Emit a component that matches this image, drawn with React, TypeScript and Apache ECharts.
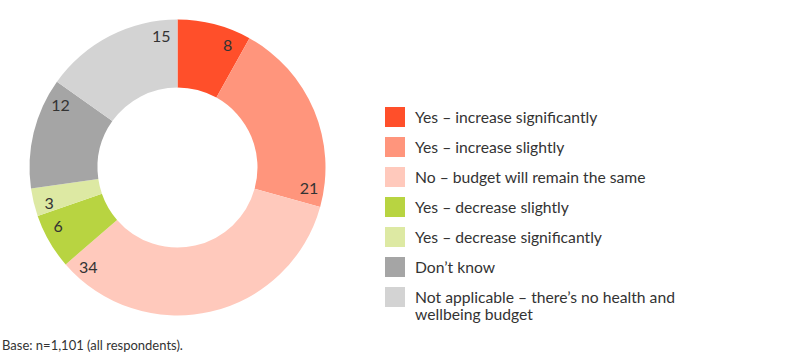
import React, { useEffect, useRef } from "react";
import * as echarts from "echarts";

const categories = [
  "Yes – increase significantly",
  "Yes – increase slightly",
  "No – budget will remain the same",
  "Yes – decrease slightly",
  "Yes – decrease significantly",
  "Don’t know",
  "Not applicable – there’s no health and wellbeing budget",
];
const legendFirstLines = [
  "Yes – increase significantly",
  "Yes – increase slightly",
  "No – budget will remain the same",
  "Yes – decrease slightly",
  "Yes – decrease significantly",
  "Don’t know",
  "Not applicable – there’s no health and",
];
const legendSecondLine = "wellbeing budget";
const values = [8, 21, 34, 6, 3, 12, 15];
const colors = ["#FF4F2A", "#FF957C", "#FFC9BC", "#B8D441", "#DDE9A3", "#A5A5A5", "#D3D3D3"];
const footnote = "Base: n=1,101 (all respondents).";

const FONT = "Lato";
const CX = 177.5;
const CY = 167.5;
const R_IN = 80;
const R_OUT = 148;
const LABEL_R = 133;
const LABEL_BACK_DEG = 7;
const LEG_LEFT = 385;
const LEG_TOP = 107;
const LEG_FONT = 15.7;

export default function App() {
  const ref = useRef<HTMLDivElement>(null);
  useEffect(() => {
    if (!ref.current) return;
    const chart = echarts.init(ref.current, undefined, { renderer: "svg" });
    const total = values.reduce((a, b) => a + b, 0);
    const cum: number[] = [0];
    values.forEach((v, i) => cum.push(cum[i] + v));
    chart.setOption({
      animation: false,
      color: colors,
      legend: {
        orient: "vertical",
        left: LEG_LEFT,
        top: LEG_TOP,
        padding: 0,
        itemWidth: 20,
        itemHeight: 20,
        itemGap: 10,
        icon: "rect",
        selectedMode: false,
        data: categories,
        formatter: (name: string) => legendFirstLines[categories.indexOf(name)],
        textStyle: {
          fontFamily: FONT,
          fontSize: LEG_FONT,
          lineHeight: 16,
          color: "#333",
          padding: [0, 0, 0, 5],
        },
      },
      graphic: [
        {
          type: "text",
          left: LEG_LEFT + 30,
          top: LEG_TOP + 6 * 30 + 10 + 9,
          style: {
            text: legendSecondLine,
            font: `${LEG_FONT}px ${FONT}`,
            lineHeight: 16,
            fill: "#333",
          },
        },
        {
          type: "text",
          left: 2,
          top: 338,
          style: { text: footnote, font: `13px ${FONT}`, fill: "#333" },
        },
      ],
      series: [
        {
          type: "pie",
          center: [CX, CY],
          radius: [R_IN, R_OUT],
          startAngle: 90,
          clockwise: true,
          avoidLabelOverlap: false,
          itemStyle: { borderWidth: 0 },
          emphasis: { disabled: true },
          label: {
            show: true,
            position: "inside",
            formatter: "{c}",
            fontFamily: FONT,
            fontSize: 16,
            color: "#333",
          },
          labelLine: { show: false },
          labelLayout: (p: any) => {
            const i = p.dataIndex;
            const deg = (cum[i + 1] / total) * 360 - LABEL_BACK_DEG;
            const a = (deg * Math.PI) / 180;
            return {
              x: CX + LABEL_R * Math.sin(a),
              y: CY - LABEL_R * Math.cos(a),
              align: "center",
              verticalAlign: "middle",
            };
          },
          data: categories.map((c, i) => ({ name: c, value: values[i] })),
        },
      ],
    });
    return () => chart.dispose();
  }, []);
  return (
    <div
      ref={ref}
      style={{ position: "absolute", left: 0, top: 0, width: 793, height: 360 }}
    />
  );
}
